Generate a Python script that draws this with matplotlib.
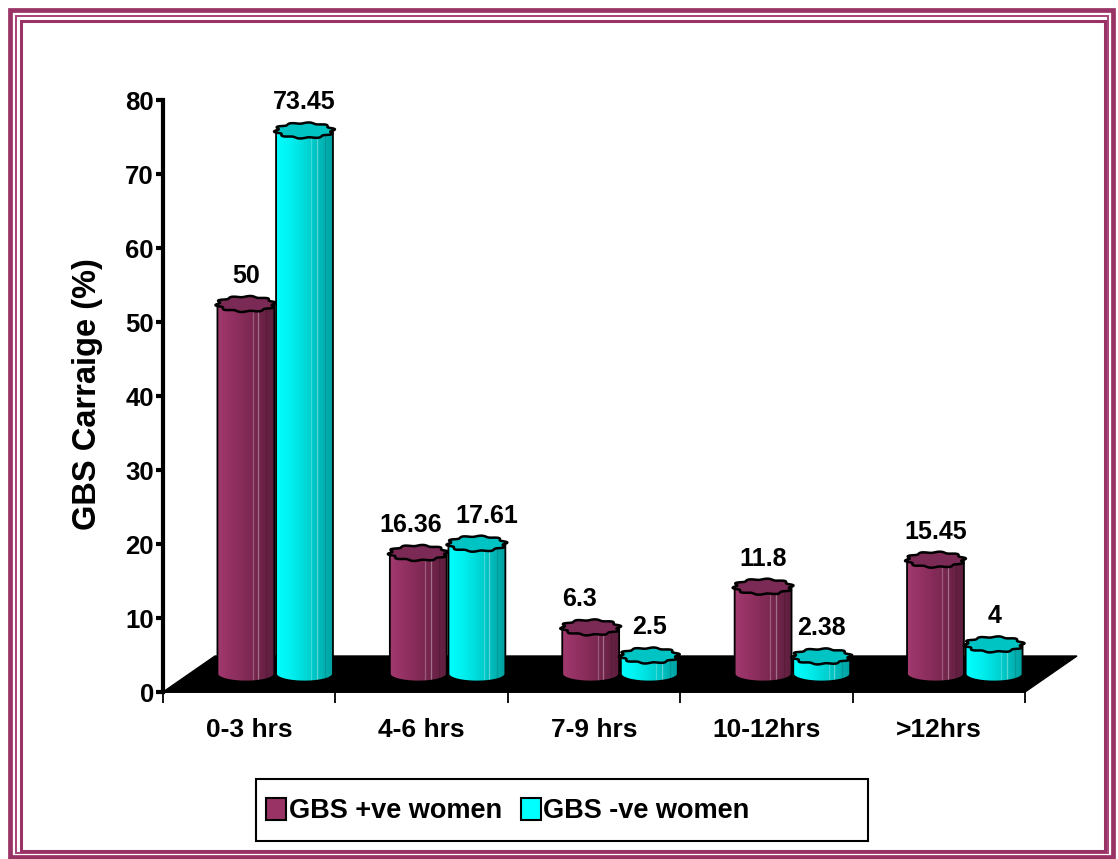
import numpy as np
import matplotlib
matplotlib.use("Agg")
import matplotlib.pyplot as plt
from matplotlib.patches import Polygon, Rectangle, Patch
from matplotlib.font_manager import FontProperties

# ---- data ----
categories = ["0-3 hrs", "4-6 hrs", "7-9 hrs", "10-12hrs", ">12hrs"]
gbs_positive = [50, 16.36, 6.3, 11.8, 15.45]
gbs_negative = [73.45, 17.61, 2.5, 2.38, 4]
series_labels = ["GBS +ve women", "GBS -ve women"]
y_ticks = [0, 10, 20, 30, 40, 50, 60, 70, 80]
y_title = "GBS Carraige (%)"

# ---- style ----
FONT = "Liberation Sans"
PLUM = "#993366"
CYAN = "#00ffff"
plum_side = ["#a23a6e", "#963265", "#8a2d5c", "#7c2852", "#6c2347", "#5c1e3d"]
cyan_side = ["#00ffff", "#00f4f4", "#00e4e4", "#00d0d0", "#00b8b8", "#00a0a0"]
plum_top = "#7a2a55"
cyan_top = "#00c4c4"
# sideways nudges (pixels) that keep neighbouring value labels apart
label_nudge_px = {(1, 0): -8, (1, 1): 10, (2, 0): -11}

W, H = 1118, 859
fig = plt.figure(figsize=(W / 100, H / 100), dpi=100)
fig.patch.set_facecolor("white")

# decorative frame
for (x0, y0, x1, y1, lw, col) in [(10, 10, 1113, 857, 3.4, "#993366"),
                                   (15.5, 15.5, 1108, 853, 1.4, "#a8437a"),
                                   (21, 21, 1105, 851, 2.2, "#993366")]:
    fig.patches.append(Rectangle((x0 / W, 1 - y1 / H), (x1 - x0) / W, (y1 - y0) / H,
                                 transform=fig.transFigure, fill=False,
                                 ec=col, lw=lw, zorder=0))

ax_l, ax_r, ax_t, ax_b = 163, 1025, 100, 692
ax = fig.add_axes([ax_l / W, 1 - ax_b / H, (ax_r - ax_l) / W, (ax_b - ax_t) / H])
ax.set_xlim(-0.5, len(categories) - 0.5)
ax.set_ylim(0, 80)
ax.patch.set_alpha(0)

# data units per pixel
dx_pp = (len(categories)) / (ax_r - ax_l)
dy_pp = 80 / (ax_b - ax_t)

# black 3D floor
depth_x, depth_y = 52 * dx_pp, 36 * dy_pp
floor = Polygon([(-0.5, 0), (4.5, 0), (4.5 + depth_x, depth_y), (-0.5 + depth_x, depth_y)],
                closed=True, fc="black", ec="black", lw=1, zorder=1, clip_on=False)
ax.add_patch(floor)

# cylinders sit halfway back on the floor
off_x, off_y = 26 * dx_pp, 18 * dy_pp
bar_w = 0.33
cap_b = 7.5 * dy_pp
label_gap = 28 * dy_pp


def draw_cylinder(xc, val, side_cols, top_col, z):
    x0, x1 = xc - bar_w / 2, xc + bar_w / 2
    a = bar_w / 2
    t = np.linspace(np.pi, 2 * np.pi, 60)
    bottom = np.column_stack([xc + a * np.cos(t), off_y + cap_b * np.sin(t)])
    body_pts = np.vstack([[(x0, off_y + val)], bottom, [(x1, off_y + val)]])
    body = Polygon(body_pts, closed=True, fc="none", ec="black", lw=1.3,
                   zorder=z + 0.2, clip_on=False)
    grad = matplotlib.colors.LinearSegmentedColormap.from_list("g", side_cols)
    img = ax.imshow(np.linspace(0, 1, 128)[None, :], cmap=grad, aspect="auto",
                    extent=(x0, x1, off_y - cap_b, off_y + val), zorder=z,
                    interpolation="bilinear")
    clip = Polygon(body_pts, closed=True, transform=ax.transData)
    img.set_clip_path(clip)
    ax.add_patch(body)
    # facet highlights
    for frac, col, al in [(0.62, "white", 0.25), (0.72, "white", 0.35), (0.86, "black", 0.12)]:
        xx = x0 + frac * bar_w
        ax.plot([xx, xx], [off_y - cap_b * 0.8, off_y + val], color=col, alpha=al,
                lw=0.9, zorder=z + 0.1, clip_on=False)
    # wavy top cap
    tt = np.linspace(0, 2 * np.pi, 240)
    r = 1 + 0.08 * np.sin(10 * tt)
    cap = np.column_stack([xc + a * r * np.cos(tt), off_y + val + cap_b * r * np.sin(tt)])
    ax.add_patch(Polygon(cap, closed=True, fc=top_col, ec="black", lw=1.8,
                         zorder=z + 0.3, clip_on=False))


xs = np.arange(len(categories))
for i in range(len(categories)):
    for j, (vals, sc, tc) in enumerate([(gbs_positive, plum_side, plum_top),
                                        (gbs_negative, cyan_side, cyan_top)]):
        xc = xs[i] + (j - 0.5) * bar_w + off_x + 0.005 * (j * 2 - 1)
        z = 2 + i * 2 + j
        draw_cylinder(xc, vals[i], sc, tc, z)
        lx = xc + label_nudge_px.get((i, j), 0) * dx_pp
        ax.text(lx, off_y + vals[i] + label_gap, f"{vals[i]:g}", ha="center", va="center",
                fontsize=18, fontweight="bold", family=FONT, zorder=20, clip_on=False)

ax.set_xlim(-0.5, len(categories) - 0.5)
ax.set_ylim(0, 80)

# axes
for s in ["top", "right"]:
    ax.spines[s].set_visible(False)
ax.spines["left"].set_linewidth(3.0)
ax.spines["bottom"].set_linewidth(1.3)
ax.spines["left"].set_zorder(30)
ax.spines["bottom"].set_zorder(30)
ax.set_yticks(y_ticks)
ax.set_yticklabels([str(v) for v in y_ticks])
ax.tick_params(axis="y", direction="out", length=5, width=3, pad=1.5, labelsize=18.5)
ax.set_xticks(xs)
ax.set_xticklabels(categories)
ax.set_xticks(np.arange(-0.5, len(categories)), minor=True)
ax.tick_params(axis="x", which="major", length=0, pad=19, labelsize=19)
ax.tick_params(axis="x", which="minor", direction="out", length=8, width=1.3)
for lab in ax.get_xticklabels() + ax.get_yticklabels():
    lab.set_fontfamily(FONT)
    lab.set_fontweight("bold")

fig.text(88 / W, 1 - 394 / H, y_title, rotation=90, ha="center", va="center",
         fontsize=23.5, fontweight="bold", family=FONT)

# legend
fig.patches.append(Rectangle((256 / W, 1 - 841 / H), 612 / W, 62 / H,
                             transform=fig.transFigure, fill=False, ec="black", lw=1.5))
handles = [Patch(fc=PLUM, ec="black", lw=1.5), Patch(fc=CYAN, ec="black", lw=1.5)]
fig.legend(handles, series_labels, ncol=2, frameon=False, loc="center left",
           bbox_to_anchor=(255 / W, 1 - 811 / H), handlelength=0.74, handleheight=0.85,
           handletextpad=0.1, columnspacing=0.7, borderaxespad=0,
           prop=FontProperties(family=FONT, weight="bold", size=19.5))

fig.savefig("out.png", dpi=100, facecolor="white")
